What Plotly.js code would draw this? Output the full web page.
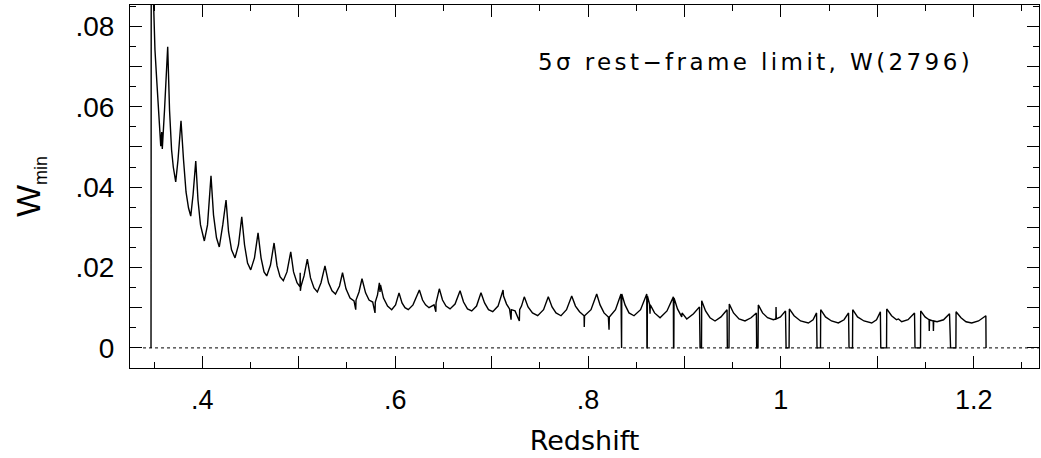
<!DOCTYPE html>
<html>
<head>
<meta charset="utf-8">
<script src="https://cdn.plot.ly/plotly-3.0.1.min.js"></script>
<style>
  html, body { margin: 0; padding: 0; background: #fff; }
  #chart { width: 1041px; height: 458px; }
  .annotation-text { letter-spacing: 3.4px; }
</style>
</head>
<body>
<div id="chart"></div>
<script>
// Redshift (z) and 5-sigma rest-frame limit W_min(2796)
const redshift = [
  0.3468, 0.3471, 0.3489, 0.3509, 0.3527, 0.3554, 0.3569, 0.3579, 0.3585, 0.3608,
  0.3627, 0.3641, 0.3660, 0.3681, 0.3699, 0.3724, 0.3748, 0.3779, 0.3805, 0.3831,
  0.3857, 0.3880, 0.3904, 0.3932, 0.3955, 0.3981, 0.4021, 0.4054, 0.4090, 0.4116,
  0.4147, 0.4176, 0.4212, 0.4246, 0.4272, 0.4303, 0.4339, 0.4375, 0.4409, 0.4438,
  0.4469, 0.4502, 0.4541, 0.4578, 0.4609, 0.4640, 0.4668, 0.4707, 0.4744, 0.4775,
  0.4806, 0.4840, 0.4878, 0.4917, 0.4946, 0.4982, 0.5013, 0.5015, 0.5017, 0.5024,
  0.5055, 0.5089, 0.5122, 0.5158, 0.5193, 0.5231, 0.5272, 0.5309, 0.5345, 0.5381,
  0.5423, 0.5454, 0.5490, 0.5532, 0.5573, 0.5591, 0.5594, 0.5625, 0.5656, 0.5693,
  0.5729, 0.5767, 0.5791, 0.5794, 0.5817, 0.5836, 0.5843, 0.5848, 0.5879, 0.5921,
  0.5964, 0.6004, 0.6040, 0.6071, 0.6102, 0.6136, 0.6185, 0.6251, 0.6284, 0.6315,
  0.6351, 0.6403, 0.6422, 0.6424, 0.6458, 0.6491, 0.6527, 0.6569, 0.6621, 0.6673,
  0.6709, 0.6750, 0.6794, 0.6844, 0.6890, 0.6927, 0.6968, 0.7012, 0.7067, 0.7119,
  0.7124, 0.7155, 0.7186, 0.7202, 0.7205, 0.7243, 0.7288, 0.7291, 0.7310, 0.7339,
  0.7378, 0.7424, 0.7478, 0.7539, 0.7588, 0.7627, 0.7668, 0.7720, 0.7777, 0.7831,
  0.7870, 0.7912, 0.7959, 0.7961, 0.7964, 0.8031, 0.8090, 0.8125, 0.8166, 0.8211,
  0.8218, 0.8221, 0.8285, 0.8342, 0.8344, 0.8348, 0.8350, 0.8384, 0.8425, 0.8477,
  0.8545, 0.8609, 0.8611, 0.8614, 0.8616, 0.8638, 0.8643, 0.8646, 0.8690, 0.8747,
  0.8819, 0.8885, 0.8887, 0.8890, 0.8892, 0.8928, 0.8972, 0.8975, 0.9024, 0.9094,
  0.9156, 0.9162, 0.9177, 0.9179, 0.9219, 0.9265, 0.9317, 0.9379, 0.9442, 0.9445,
  0.9462, 0.9465, 0.9509, 0.9566, 0.9628, 0.9691, 0.9746, 0.9749, 0.9763, 0.9766,
  0.9810, 0.9862, 0.9922, 0.9948, 0.9950, 0.9953, 0.9996, 1.0048, 1.0054, 1.0085,
  1.0088, 1.0137, 1.0204, 1.0285, 1.0334, 1.0370, 1.0375, 1.0411, 1.0413, 1.0463,
  1.0525, 1.0596, 1.0655, 1.0702, 1.0707, 1.0743, 1.0745, 1.0795, 1.0862, 1.0942,
  1.0992, 1.1032, 1.1036, 1.1096, 1.1098, 1.1148, 1.1199, 1.1220, 1.1253, 1.1319,
  1.1386, 1.1391, 1.1448, 1.1450, 1.1495, 1.1537, 1.1539, 1.1542, 1.1580, 1.1582,
  1.1585, 1.1620, 1.1687, 1.1749, 1.1760, 1.1815, 1.1817, 1.1868, 1.1920, 1.1979,
  1.2050, 1.2126, 1.2128
];
const wMin = [
  0.0000, 0.1300, 0.0900, 0.0741, 0.0667, 0.0550, 0.0502, 0.0537, 0.0495, 0.0592,
  0.0679, 0.0749, 0.0592, 0.0493, 0.0450, 0.0413, 0.0468, 0.0565, 0.0468, 0.0388,
  0.0348, 0.0328, 0.0381, 0.0465, 0.0368, 0.0306, 0.0266, 0.0306, 0.0428, 0.0331,
  0.0274, 0.0251, 0.0306, 0.0368, 0.0289, 0.0244, 0.0224, 0.0256, 0.0326, 0.0256,
  0.0211, 0.0194, 0.0224, 0.0286, 0.0224, 0.0189, 0.0179, 0.0206, 0.0261, 0.0204,
  0.0177, 0.0167, 0.0189, 0.0239, 0.0189, 0.0162, 0.0152, 0.0187, 0.0142, 0.0154,
  0.0179, 0.0221, 0.0174, 0.0149, 0.0139, 0.0162, 0.0204, 0.0162, 0.0142, 0.0134,
  0.0154, 0.0187, 0.0147, 0.0124, 0.0117, 0.0095, 0.0119, 0.0139, 0.0172, 0.0137,
  0.0119, 0.0114, 0.0087, 0.0114, 0.0132, 0.0162, 0.0139, 0.0157, 0.0124, 0.0104,
  0.0095, 0.0107, 0.0137, 0.0112, 0.0100, 0.0095, 0.0107, 0.0144, 0.0119, 0.0107,
  0.0100, 0.0107, 0.0090, 0.0112, 0.0147, 0.0119, 0.0104, 0.0097, 0.0109, 0.0142,
  0.0114, 0.0097, 0.0092, 0.0104, 0.0137, 0.0112, 0.0095, 0.0090, 0.0104, 0.0144,
  0.0129, 0.0109, 0.0097, 0.0070, 0.0095, 0.0092, 0.0067, 0.0095, 0.0104, 0.0127,
  0.0102, 0.0087, 0.0080, 0.0095, 0.0127, 0.0102, 0.0087, 0.0080, 0.0095, 0.0129,
  0.0104, 0.0090, 0.0080, 0.0052, 0.0080, 0.0095, 0.0134, 0.0107, 0.0087, 0.0077,
  0.0045, 0.0077, 0.0095, 0.0134, 0.0000, 0.0000, 0.0134, 0.0107, 0.0087, 0.0080,
  0.0095, 0.0134, 0.0000, 0.0000, 0.0129, 0.0109, 0.0085, 0.0107, 0.0087, 0.0075,
  0.0092, 0.0127, 0.0000, 0.0000, 0.0124, 0.0097, 0.0077, 0.0087, 0.0072, 0.0085,
  0.0102, 0.0000, 0.0000, 0.0117, 0.0092, 0.0075, 0.0067, 0.0077, 0.0095, 0.0000,
  0.0000, 0.0109, 0.0087, 0.0072, 0.0067, 0.0075, 0.0087, 0.0000, 0.0000, 0.0107,
  0.0087, 0.0075, 0.0070, 0.0072, 0.0102, 0.0072, 0.0077, 0.0092, 0.0000, 0.0000,
  0.0097, 0.0080, 0.0067, 0.0062, 0.0070, 0.0087, 0.0000, 0.0000, 0.0095, 0.0077,
  0.0067, 0.0062, 0.0070, 0.0087, 0.0000, 0.0000, 0.0095, 0.0077, 0.0067, 0.0062,
  0.0070, 0.0090, 0.0000, 0.0000, 0.0097, 0.0080, 0.0070, 0.0072, 0.0065, 0.0070,
  0.0087, 0.0000, 0.0000, 0.0092, 0.0077, 0.0070, 0.0042, 0.0070, 0.0067, 0.0042,
  0.0067, 0.0065, 0.0070, 0.0085, 0.0000, 0.0000, 0.0090, 0.0075, 0.0065, 0.0062,
  0.0067, 0.0080, 0.0000
];
// dotted zero reference line
const zeroLineZ = [0.3385, 1.2677];
const zeroLineW = [0, 0];

// ticks
const xTickVals = [0.4, 0.5, 0.6, 0.7, 0.8, 0.9, 1.0, 1.1, 1.2];
const xTickText = ['.4', '', '.6', '', '.8', '', '1', '', '1.2'];
const yTickVals = [0, 0.01, 0.02, 0.03, 0.04, 0.05, 0.06, 0.07, 0.08];
const yTickText = ['0', '', '.02', '', '.04', '', '.06', '', '.08'];

const annotationText = '5σ rest−frame limit, W(2796)';

const traces = [
  {
    x: zeroLineZ, y: zeroLineW, type: 'scatter', mode: 'lines',
    line: { color: '#000', width: 1, dash: 'dot' }, hoverinfo: 'skip', showlegend: false
  },
  {
    x: redshift, y: wMin, type: 'scatter', mode: 'lines',
    line: { color: '#000', width: 1.4 }, showlegend: false
  }
];

const tickFont = { family: 'Liberation Sans, Arial, sans-serif', size: 27, color: '#000' };

const layout = {
  width: 1041, height: 458,
  margin: { l: 130, r: 2, t: 5, b: 90 },
  paper_bgcolor: '#fff', plot_bgcolor: '#fff',
  font: { family: 'Liberation Sans, Arial, sans-serif', color: '#000' },
  showlegend: false,
  xaxis: {
    range: [0.325, 1.2677],
    showline: true, linecolor: '#000', linewidth: 1, mirror: 'allticks',
    ticks: 'inside', ticklen: 12, tickwidth: 1, tickcolor: '#000',
    tickmode: 'array', tickvals: xTickVals, ticktext: xTickText,
    tickfont: tickFont, ticklabelstandoff: 8,
    minor: { ticks: 'inside', ticklen: 6, tickwidth: 1, tickcolor: '#000', tickmode: 'linear', tick0: 0, dtick: 0.05, showgrid: false },
    showgrid: false, zeroline: false,
    title: { text: 'Redshift', font: { family: 'DejaVu Sans, sans-serif', size: 27, color: '#000' }, standoff: 16 }
  },
  yaxis: {
    range: [-0.005, 0.0853],
    showline: true, linecolor: '#000', linewidth: 1, mirror: 'allticks',
    ticks: 'inside', ticklen: 12, tickwidth: 1, tickcolor: '#000',
    tickmode: 'array', tickvals: yTickVals, ticktext: yTickText,
    tickfont: { family: 'Liberation Sans, Arial, sans-serif', size: 28, color: '#000' }, ticklabelstandoff: 9,
    minor: { ticks: 'inside', ticklen: 6, tickwidth: 1, tickcolor: '#000', tickmode: 'linear', tick0: 0, dtick: 0.005, showgrid: false },
    showgrid: false, zeroline: false,
    title: { text: "W<sub><span style='font-size:18px'>min</span></sub>", font: { family: 'Liberation Sans, Arial, sans-serif', size: 34, color: '#000' }, standoff: 24 }
  },
  annotations: [{
    xref: 'paper', yref: 'paper', x: 0.4467, y: 0.843,
    xanchor: 'left', yanchor: 'middle', showarrow: false,
    text: annotationText,
    font: { family: 'DejaVu Sans, sans-serif', size: 23, color: '#000' }
  }]
};

Plotly.newPlot('chart', traces, layout, { displayModeBar: false, staticPlot: true });
</script>
</body>
</html>
